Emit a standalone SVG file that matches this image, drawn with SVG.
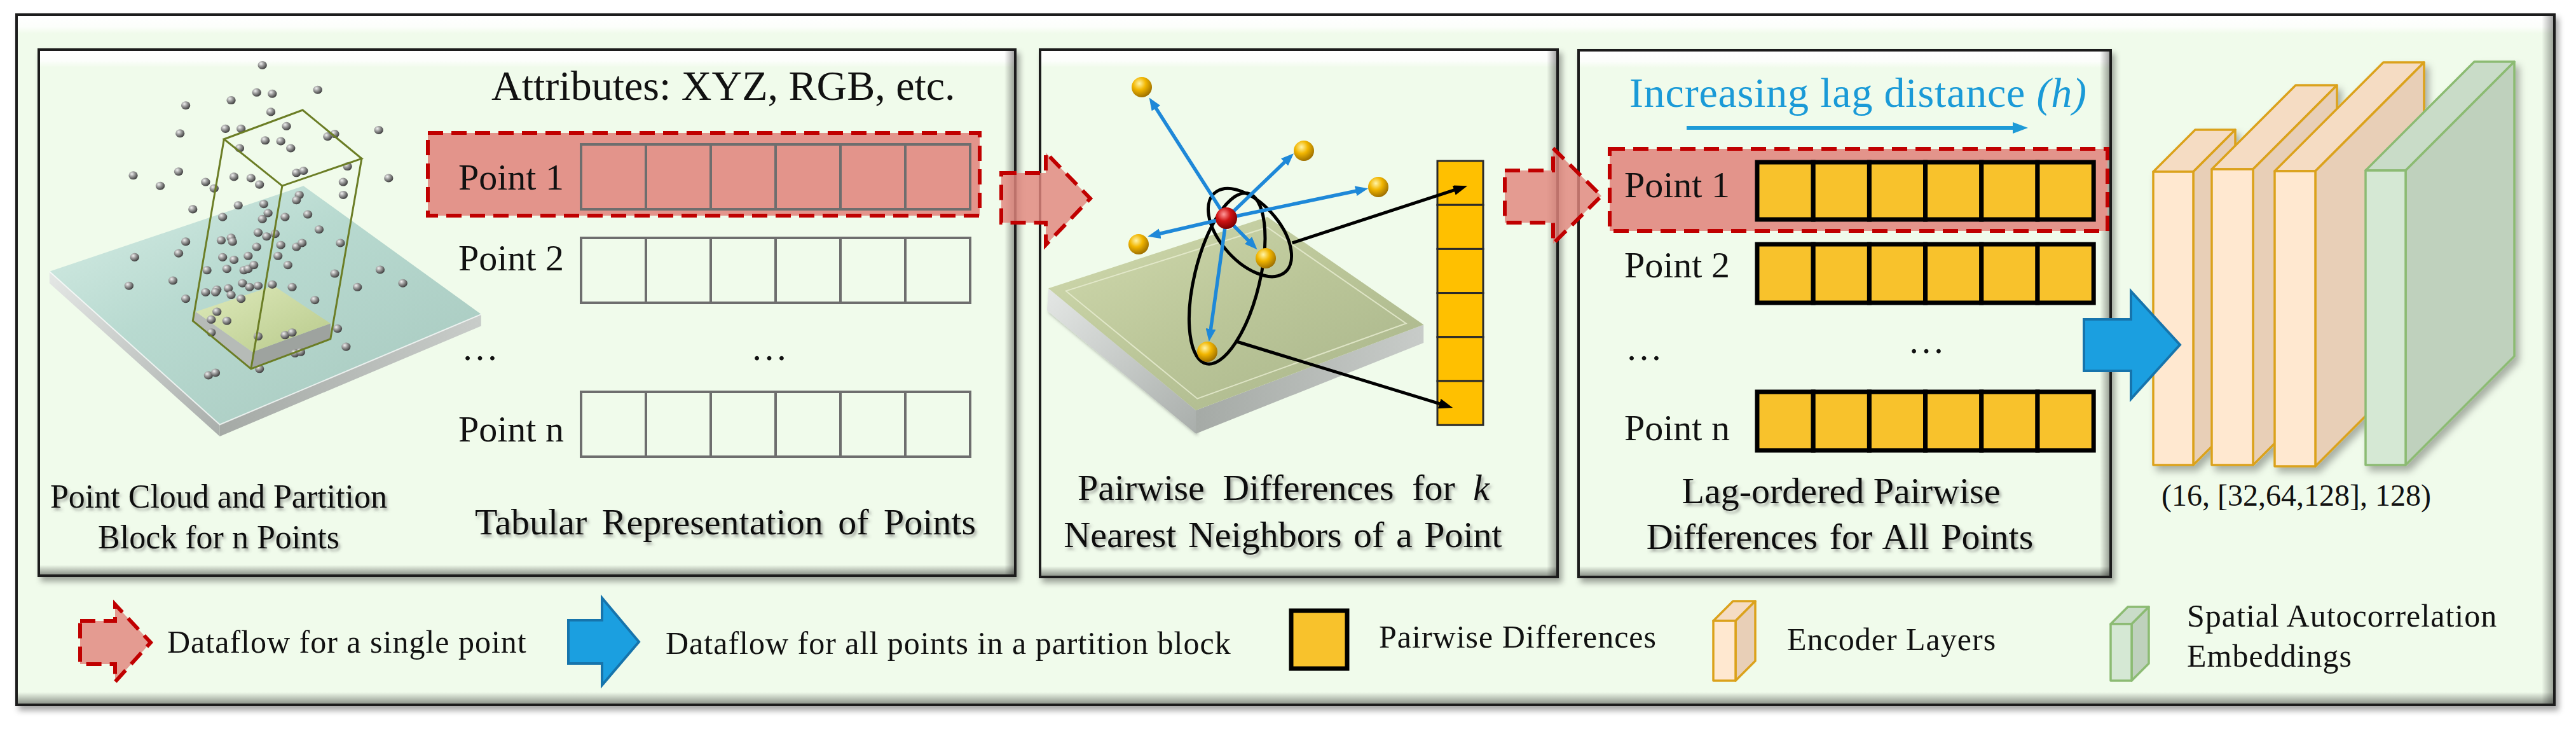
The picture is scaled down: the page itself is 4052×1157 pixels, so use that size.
<svg xmlns="http://www.w3.org/2000/svg" width="4052" height="1157" viewBox="0 0 4052 1157">
<defs>
<style>
.t{font-family:"Liberation Serif","Times New Roman",serif;fill:#111;}
.cap{font-size:58px;filter:url(#txtSh);}
.lbl{font-size:58px;}
.leg{font-size:50px;letter-spacing:1px;}
.panel{fill:#F0FBEB;stroke:#1E1E1E;stroke-width:4;}
.c1{fill:none;stroke:#6E6E6E;stroke-width:4;}
.c3{fill:#F8C22C;stroke:#000;stroke-width:7;}
.col{fill:#FFC000;stroke:#2A2A2A;stroke-width:3;}
.dot{fill:url(#gDot);}
.ys{fill:url(#gYel);}
.enF{fill:#FFE8D0;stroke:#DBA21C;stroke-width:3.5;stroke-linejoin:round;}
.enT{fill:#F5DCC3;stroke:#DBA21C;stroke-width:3.5;stroke-linejoin:round;}
.enS{fill:#E8CFB7;stroke:#DBA21C;stroke-width:3.5;stroke-linejoin:round;}
.grF{fill:#D5E8D4;stroke:#8CBB73;stroke-width:3.5;stroke-linejoin:round;}
.grT{fill:#C9DCC8;stroke:#8CBB73;stroke-width:3.5;stroke-linejoin:round;}
.grS{fill:#BFD1BD;stroke:#8CBB73;stroke-width:3.5;stroke-linejoin:round;}
.redarrow{fill:#E0857C;fill-opacity:0.82;stroke:#C00000;stroke-width:6;stroke-dasharray:24 13;stroke-linejoin:miter;}
.bluearrow{fill:#1B9FE0;stroke:#1674AC;stroke-width:4;stroke-linejoin:miter;}
.bl{stroke:#1E88D8;stroke-width:5.5;fill:none;}
.bk{stroke:#000;stroke-width:5;fill:none;}
.prism{fill:none;stroke:#6B7D25;stroke-width:3;}
</style>
<filter id="shadow" x="-5%" y="-5%" width="110%" height="115%">
<feDropShadow dx="5" dy="7" stdDeviation="5" flood-color="#000" flood-opacity="0.35"/>
</filter>
<filter id="txtSh" x="-5%" y="-20%" width="110%" height="150%">
<feDropShadow dx="3" dy="4" stdDeviation="2" flood-color="#555" flood-opacity="0.5"/>
</filter>
<filter id="softSh" x="-10%" y="-10%" width="130%" height="130%">
<feDropShadow dx="6" dy="8" stdDeviation="6" flood-color="#000" flood-opacity="0.3"/>
</filter>
<linearGradient id="hiTop" x1="0" y1="0" x2="0" y2="1">
<stop offset="0" stop-color="#fff" stop-opacity="1"/>
<stop offset="0.6" stop-color="#fff" stop-opacity="0.8"/>
<stop offset="1" stop-color="#fff" stop-opacity="0"/>
</linearGradient>
<linearGradient id="shBot" x1="0" y1="0" x2="0" y2="1">
<stop offset="0" stop-color="#000" stop-opacity="0"/>
<stop offset="1" stop-color="#000" stop-opacity="0.4"/>
</linearGradient>
<linearGradient id="shRight" x1="0" y1="0" x2="1" y2="0">
<stop offset="0" stop-color="#000" stop-opacity="0"/>
<stop offset="1" stop-color="#000" stop-opacity="0.35"/>
</linearGradient>
<radialGradient id="gDot" cx="0.35" cy="0.32" r="0.7">
<stop offset="0" stop-color="#F2F2F2"/>
<stop offset="0.45" stop-color="#9A9A9A"/>
<stop offset="1" stop-color="#3E3E3E"/>
</radialGradient>
<radialGradient id="gYel" cx="0.38" cy="0.32" r="0.7">
<stop offset="0" stop-color="#FFF4A8"/>
<stop offset="0.45" stop-color="#F2B600"/>
<stop offset="1" stop-color="#9C6E00"/>
</radialGradient>
<radialGradient id="gRed" cx="0.38" cy="0.32" r="0.7">
<stop offset="0" stop-color="#FF9A9A"/>
<stop offset="0.45" stop-color="#D01414"/>
<stop offset="1" stop-color="#7A0000"/>
</radialGradient>
<linearGradient id="gTeal" x1="0" y1="0" x2="1" y2="1">
<stop offset="0" stop-color="#D5EDE6"/>
<stop offset="0.4" stop-color="#B2D6CD"/>
<stop offset="1" stop-color="#9EC2B9"/>
</linearGradient>
<linearGradient id="gOlive" x1="0" y1="0" x2="1" y2="1">
<stop offset="0" stop-color="#D0D9AC"/>
<stop offset="0.5" stop-color="#B8C394"/>
<stop offset="1" stop-color="#A4B085"/>
</linearGradient>
<linearGradient id="gSideL" x1="0" y1="0" x2="1" y2="1">
<stop offset="0" stop-color="#E4E7E5"/>
<stop offset="1" stop-color="#A9AEAB"/>
</linearGradient>
<linearGradient id="gSideR" x1="0" y1="0" x2="1" y2="0">
<stop offset="0" stop-color="#A5AAA6"/>
<stop offset="1" stop-color="#C8CCC9"/>
</linearGradient>
<linearGradient id="gBase" x1="0" y1="0" x2="1" y2="1">
<stop offset="0" stop-color="#E2EBB8"/>
<stop offset="1" stop-color="#B9C985"/>
</linearGradient>
<marker id="mBlue" markerUnits="userSpaceOnUse" markerWidth="20" markerHeight="16" refX="8" refY="8" orient="auto">
<path d="M0,0 L20,8 L0,16 z" fill="#1E88D8"/>
</marker>
<marker id="mBlack" markerUnits="userSpaceOnUse" markerWidth="22" markerHeight="16" refX="8" refY="8" orient="auto">
<path d="M0,0 L22,8 L0,16 z" fill="#000"/>
</marker>
<marker id="mLag" markerUnits="userSpaceOnUse" markerWidth="24" markerHeight="18" refX="8" refY="9" orient="auto">
<path d="M0,0 L24,9 L0,18 z" fill="#1E9BD7"/>
</marker>
</defs>

<!-- outer frame -->
<g id="frame">
<rect x="26" y="23" width="3992" height="1085" class="panel" filter="url(#shadow)"/>
<rect x="28" y="25" width="3988" height="28" fill="url(#hiTop)"/>
<rect x="28" y="1088" width="3988" height="18" fill="url(#shBot)"/>
<rect x="3998" y="25" width="18" height="1081" fill="url(#shRight)"/>
</g>

<!-- Panel 1 -->
<g id="panel-tabular">
<rect x="61" y="78" width="1536" height="827" class="panel" filter="url(#shadow)"/>
<rect x="63" y="80" width="1532" height="26" fill="url(#hiTop)"/>
<rect x="63" y="888" width="1532" height="15" fill="url(#shBot)"/>
<rect x="1580" y="80" width="15" height="823" fill="url(#shRight)"/>

<g id="point-cloud" transform="translate(60,80) scale(0.4464,0.408)">
<polygon points="40,850 640,1440 640,1485 40,895" fill="url(#gSideL)"/>
<polygon points="640,1440 1561,1015 1561,1060 640,1485" fill="url(#gSideR)"/>
<polygon points="40,850 935,520 1561,1015 640,1440" fill="url(#gTeal)" fill-opacity="0.9"/>
<polyline points="40,850 640,1440 1561,1015" fill="none" stroke="#fff" stroke-opacity="0.7" stroke-width="2" vector-effect="non-scaling-stroke"/>
<polygon points="545,1040 750,1225 755,1160 555,1005" fill="#B6BBB7"/>
<polygon points="750,1225 1030,1110 1030,1050 755,1160" fill="#9EA39F"/>
<polygon points="555,1005 830,905 1030,1050 755,1160" fill="url(#gBase)" fill-opacity="0.9"/>
<g>
<circle class="dot" cx="790" cy="55" r="16"/><circle class="dot" cx="985" cy="150" r="16"/><circle class="dot" cx="770" cy="160" r="16"/><circle class="dot" cx="825" cy="165" r="16"/><circle class="dot" cx="680" cy="190" r="16"/><circle class="dot" cx="520" cy="210" r="16"/><circle class="dot" cx="820" cy="235" r="16"/><circle class="dot" cx="875" cy="290" r="16"/><circle class="dot" cx="660" cy="300" r="16"/><circle class="dot" cx="715" cy="300" r="16"/><circle class="dot" cx="1200" cy="305" r="16"/><circle class="dot" cx="500" cy="318" r="16"/><circle class="dot" cx="1020" cy="330" r="16"/><circle class="dot" cx="1045" cy="320" r="16"/><circle class="dot" cx="800" cy="345" r="16"/><circle class="dot" cx="855" cy="348" r="16"/><circle class="dot" cx="890" cy="375" r="16"/><circle class="dot" cx="710" cy="375" r="16"/><circle class="dot" cx="335" cy="480" r="16"/><circle class="dot" cx="495" cy="465" r="16"/><circle class="dot" cx="430" cy="520" r="16"/><circle class="dot" cx="690" cy="485" r="16"/><circle class="dot" cx="750" cy="490" r="16"/><circle class="dot" cx="780" cy="515" r="16"/><circle class="dot" cx="590" cy="505" r="16"/><circle class="dot" cx="620" cy="530" r="16"/><circle class="dot" cx="910" cy="470" r="16"/><circle class="dot" cx="935" cy="462" r="16"/><circle class="dot" cx="1090" cy="445" r="16"/><circle class="dot" cx="1235" cy="490" r="16"/><circle class="dot" cx="1075" cy="505" r="16"/><circle class="dot" cx="1075" cy="555" r="16"/><circle class="dot" cx="920" cy="555" r="16"/><circle class="dot" cx="910" cy="575" r="16"/><circle class="dot" cx="545" cy="610" r="16"/><circle class="dot" cx="705" cy="595" r="16"/><circle class="dot" cx="795" cy="590" r="16"/><circle class="dot" cx="650" cy="640" r="16"/><circle class="dot" cx="810" cy="625" r="16"/><circle class="dot" cx="790" cy="648" r="16"/><circle class="dot" cx="870" cy="640" r="16"/><circle class="dot" cx="950" cy="630" r="16"/><circle class="dot" cx="990" cy="688" r="16"/><circle class="dot" cx="775" cy="700" r="16"/><circle class="dot" cx="805" cy="715" r="16"/><circle class="dot" cx="835" cy="705" r="16"/><circle class="dot" cx="520" cy="735" r="16"/><circle class="dot" cx="645" cy="730" r="16"/><circle class="dot" cx="680" cy="720" r="16"/><circle class="dot" cx="685" cy="735" r="16"/><circle class="dot" cx="855" cy="748" r="16"/><circle class="dot" cx="910" cy="755" r="16"/><circle class="dot" cx="930" cy="740" r="16"/><circle class="dot" cx="1065" cy="740" r="16"/><circle class="dot" cx="770" cy="755" r="16"/><circle class="dot" cx="340" cy="795" r="16"/><circle class="dot" cx="495" cy="780" r="16"/><circle class="dot" cx="650" cy="795" r="16"/><circle class="dot" cx="690" cy="805" r="16"/><circle class="dot" cx="740" cy="790" r="16"/><circle class="dot" cx="595" cy="845" r="16"/><circle class="dot" cx="665" cy="840" r="16"/><circle class="dot" cx="725" cy="845" r="16"/><circle class="dot" cx="740" cy="840" r="16"/><circle class="dot" cx="760" cy="825" r="16"/><circle class="dot" cx="845" cy="790" r="16"/><circle class="dot" cx="880" cy="825" r="16"/><circle class="dot" cx="1205" cy="843" r="16"/><circle class="dot" cx="1045" cy="858" r="16"/><circle class="dot" cx="320" cy="905" r="16"/><circle class="dot" cx="475" cy="885" r="16"/><circle class="dot" cx="590" cy="930" r="16"/><circle class="dot" cx="630" cy="920" r="16"/><circle class="dot" cx="625" cy="930" r="16"/><circle class="dot" cx="670" cy="915" r="16"/><circle class="dot" cx="680" cy="940" r="16"/><circle class="dot" cx="720" cy="895" r="16"/><circle class="dot" cx="745" cy="910" r="16"/><circle class="dot" cx="775" cy="905" r="16"/><circle class="dot" cx="825" cy="900" r="16"/><circle class="dot" cx="895" cy="910" r="16"/><circle class="dot" cx="1125" cy="910" r="16"/><circle class="dot" cx="1285" cy="895" r="16"/><circle class="dot" cx="520" cy="955" r="16"/><circle class="dot" cx="715" cy="955" r="16"/><circle class="dot" cx="975" cy="960" r="16"/><circle class="dot" cx="630" cy="1005" r="16"/><circle class="dot" cx="610" cy="1035" r="16"/><circle class="dot" cx="665" cy="1040" r="16"/><circle class="dot" cx="1055" cy="1070" r="16"/><circle class="dot" cx="610" cy="1085" r="16"/><circle class="dot" cx="775" cy="1100" r="16"/><circle class="dot" cx="870" cy="1095" r="16"/><circle class="dot" cx="895" cy="1085" r="16"/><circle class="dot" cx="1085" cy="1140" r="16"/><circle class="dot" cx="905" cy="1165" r="16"/><circle class="dot" cx="925" cy="1160" r="16"/><circle class="dot" cx="780" cy="1225" r="16"/><circle class="dot" cx="600" cy="1250" r="16"/><circle class="dot" cx="625" cy="1240" r="16"/>
</g>
<g class="prism">
<polygon points="655,340 932,228 1140,415 860,520" vector-effect="non-scaling-stroke"/>
<polyline points="655,340 545,1040 750,1225 1030,1110 1140,415" vector-effect="non-scaling-stroke"/>
<line x1="860" y1="520" x2="750" y2="1225" vector-effect="non-scaling-stroke"/>
</g>
</g>

<text class="t" x="773" y="157" font-size="66">Attributes: XYZ, RGB, etc.</text>
<rect x="673" y="209" width="868" height="130" fill="#E3948B" stroke="#C00000" stroke-width="6" stroke-dasharray="24 13"/>
<g id="rows-p1">
<rect class="c1" x="914" y="227" width="102" height="102"/><rect class="c1" x="1016" y="227" width="102" height="102"/><rect class="c1" x="1118" y="227" width="102" height="102"/><rect class="c1" x="1220" y="227" width="102" height="102"/><rect class="c1" x="1322" y="227" width="102" height="102"/><rect class="c1" x="1424" y="227" width="102" height="102"/>
<rect class="c1" x="914" y="374" width="102" height="102"/><rect class="c1" x="1016" y="374" width="102" height="102"/><rect class="c1" x="1118" y="374" width="102" height="102"/><rect class="c1" x="1220" y="374" width="102" height="102"/><rect class="c1" x="1322" y="374" width="102" height="102"/><rect class="c1" x="1424" y="374" width="102" height="102"/>
<rect class="c1" x="914" y="616" width="102" height="102"/><rect class="c1" x="1016" y="616" width="102" height="102"/><rect class="c1" x="1118" y="616" width="102" height="102"/><rect class="c1" x="1220" y="616" width="102" height="102"/><rect class="c1" x="1322" y="616" width="102" height="102"/><rect class="c1" x="1424" y="616" width="102" height="102"/>
</g>
<text class="t lbl" x="721" y="298">Point 1</text>
<text class="t lbl" x="721" y="425">Point 2</text>
<text class="t lbl" x="726" y="566">…</text>
<text class="t lbl" x="1181" y="566">…</text>
<text class="t lbl" x="721" y="694">Point n</text>
<text class="t cap" x="344" y="798" text-anchor="middle" style="font-size:52px">Point Cloud and Partition</text>
<text class="t cap" x="344" y="862" text-anchor="middle" style="font-size:52px">Block for n Points</text>
<text class="t cap" x="747" y="840" word-spacing="9">Tabular Representation of Points</text>
</g>

<!-- Panel 2 -->
<g id="panel-knn">
<rect x="1636" y="78" width="814" height="829" class="panel" filter="url(#shadow)"/>
<rect x="1638" y="80" width="810" height="26" fill="url(#hiTop)"/>
<rect x="1638" y="890" width="810" height="15" fill="url(#shBot)"/>
<rect x="2433" y="80" width="15" height="825" fill="url(#shRight)"/>

<g id="slab" transform="translate(1640,80) scale(0.4592,0.408)">
<polygon points="20,915 525,1385 525,1475 15,1000" fill="url(#gSideL)" filter="url(#softSh)"/>
<polygon points="525,1385 1305,1055 1305,1125 525,1475" fill="url(#gSideR)"/>
<polygon points="20,915 770,640 1305,1055 525,1385" fill="url(#gOlive)" fill-opacity="0.95"/>
<polygon points="80,925 770,680 1245,1050 530,1340" fill="none" stroke="#E8EDD2" stroke-opacity="0.8" stroke-width="2" vector-effect="non-scaling-stroke"/>
<ellipse cx="710" cy="700" rx="195" ry="105" transform="rotate(54 710 700)" fill="none" stroke="#000" stroke-width="5" vector-effect="non-scaling-stroke"/>
<ellipse cx="632" cy="877" rx="336" ry="112" transform="rotate(102 632 877)" fill="none" stroke="#000" stroke-width="5" vector-effect="non-scaling-stroke"/>
</g>

<g id="kcolumn">
<rect class="col" x="2261" y="253" width="72" height="69.2"/><rect class="col" x="2261" y="322.2" width="72" height="69.2"/><rect class="col" x="2261" y="391.4" width="72" height="69.2"/><rect class="col" x="2261" y="460.6" width="72" height="69.2"/><rect class="col" x="2261" y="529.8" width="72" height="69.2"/><rect class="col" x="2261" y="599" width="72" height="69.2"/>
</g>

<g id="neighbors">
<line class="bl" x1="1929" y1="343" x2="1814.1" y2="163.5" marker-end="url(#mBlue)"/>
<line class="bl" x1="1929" y1="343" x2="2026.3" y2="249.5" marker-end="url(#mBlue)"/>
<line class="bl" x1="1929" y1="343" x2="2140.3" y2="298.7" marker-end="url(#mBlue)"/>
<line class="bl" x1="1929" y1="343" x2="1817.0" y2="369.0" marker-end="url(#mBlue)"/>
<line class="bl" x1="1929" y1="343" x2="1969.1" y2="383.6" marker-end="url(#mBlue)"/>
<line class="bl" x1="1929" y1="343" x2="1903.4" y2="525.1" marker-end="url(#mBlue)"/>
<circle class="ys" cx="1796" cy="137" r="16"/>
<circle class="ys" cx="2051" cy="237" r="16"/>
<circle class="ys" cx="2168" cy="294" r="16"/>
<circle class="ys" cx="1791" cy="384" r="16"/>
<circle class="ys" cx="1991" cy="406" r="16"/>
<circle class="ys" cx="1899" cy="553" r="16"/>
<circle cx="1929" cy="343" r="17" fill="url(#gRed)"/>
</g>
<line class="bk" x1="2032.6" y1="381.9" x2="2294.8" y2="296.5" marker-end="url(#mBlack)"/>
<line class="bk" x1="1945.4" y1="537.0" x2="2271.8" y2="636.9" marker-end="url(#mBlack)"/>

<text class="t cap" x="2019" y="786" text-anchor="middle" word-spacing="14">Pairwise Differences for <tspan font-style="italic">k</tspan></text>
<text class="t cap" x="2018" y="860" text-anchor="middle" word-spacing="4">Nearest Neighbors of a Point</text>
</g>

<!-- Panel 3 -->
<g id="panel-lag">
<rect x="2483" y="79" width="837" height="828" class="panel" filter="url(#shadow)"/>
<rect x="2485" y="81" width="833" height="26" fill="url(#hiTop)"/>
<rect x="2485" y="890" width="833" height="15" fill="url(#shBot)"/>
<rect x="3303" y="81" width="15" height="824" fill="url(#shRight)"/>
<text class="t" x="2563" y="168" font-size="66" letter-spacing="0.8" style="fill:#1A9AD7">Increasing lag distance <tspan font-style="italic">(h)</tspan></text>
<line x1="2653" y1="201" x2="3174" y2="201" stroke="#1E9BD7" stroke-width="6" marker-end="url(#mLag)"/>
<rect x="2532" y="234" width="783" height="129" fill="#E3948B" stroke="#C00000" stroke-width="6" stroke-dasharray="24 13"/>
<g id="rows-p3">
<rect class="c3" x="2764" y="255" width="88.2" height="90"/><rect class="c3" x="2852.2" y="255" width="88.2" height="90"/><rect class="c3" x="2940.4" y="255" width="88.2" height="90"/><rect class="c3" x="3028.6" y="255" width="88.2" height="90"/><rect class="c3" x="3116.8" y="255" width="88.2" height="90"/><rect class="c3" x="3205" y="255" width="88.2" height="90"/>
<rect class="c3" x="2764" y="384" width="88.2" height="92"/><rect class="c3" x="2852.2" y="384" width="88.2" height="92"/><rect class="c3" x="2940.4" y="384" width="88.2" height="92"/><rect class="c3" x="3028.6" y="384" width="88.2" height="92"/><rect class="c3" x="3116.8" y="384" width="88.2" height="92"/><rect class="c3" x="3205" y="384" width="88.2" height="92"/>
<rect class="c3" x="2764" y="616" width="88.2" height="92"/><rect class="c3" x="2852.2" y="616" width="88.2" height="92"/><rect class="c3" x="2940.4" y="616" width="88.2" height="92"/><rect class="c3" x="3028.6" y="616" width="88.2" height="92"/><rect class="c3" x="3116.8" y="616" width="88.2" height="92"/><rect class="c3" x="3205" y="616" width="88.2" height="92"/>
</g>
<text class="t lbl" x="2555" y="310">Point 1</text>
<text class="t lbl" x="2555" y="436">Point 2</text>
<text class="t lbl" x="2557" y="566">…</text>
<text class="t lbl" x="3001" y="555">…</text>
<text class="t lbl" x="2555" y="692">Point n</text>
<text class="t cap" x="2896" y="791" text-anchor="middle">Lag-ordered Pairwise</text>
<text class="t cap" x="2894" y="863" text-anchor="middle" word-spacing="4">Differences for All Points</text>
</g>

<!-- Encoder -->
<g id="encoder" filter="url(#softSh)">
<g id="enc-layer-1">
<polygon class="enT" points="3387,270 3453,204 3516,204 3450,270"/>
<polygon class="enS" points="3450,270 3516,204 3516,665 3450,731"/>
<rect class="enF" x="3387" y="270" width="63" height="461"/>
</g>
<g id="enc-layer-2">
<polygon class="enT" points="3479,266 3611,134 3676,134 3544,266"/>
<polygon class="enS" points="3544,266 3676,134 3676,599 3544,731"/>
<rect class="enF" x="3479" y="266" width="65" height="465"/>
</g>
<g id="enc-layer-3">
<polygon class="enT" points="3578,269 3749,98 3813,98 3642,269"/>
<polygon class="enS" points="3642,269 3813,98 3813,562 3642,733"/>
<rect class="enF" x="3578" y="269" width="64" height="464"/>
</g>
<g id="embedding">
<polygon class="grT" points="3721,268 3892,97 3955,97 3784,268"/>
<polygon class="grS" points="3784,268 3955,97 3955,560 3784,731"/>
<rect class="grF" x="3721" y="268" width="63" height="463"/>
</g>
</g>
<text class="t" x="3400" y="795" font-size="48">(16, [32,64,128], 128)</text>

<!-- Legend -->
<g id="legend">
<g id="leg-single">
<polygon class="redarrow" points="126,976 181,976 181,950 237,1010 181,1072 181,1044 126,1044"/>
<text class="t leg" x="263" y="1026">Dataflow for a single point</text>
</g>
<g id="leg-all">
<polygon class="bluearrow" points="894,975 947,975 947,940 1005,1009 947,1077 947,1043 894,1043"/>
<text class="t leg" x="1047" y="1028">Dataflow for all points in a partition block</text>
</g>
<g id="leg-pd">
<rect x="2031" y="960" width="88" height="91" fill="#F8C22C" stroke="#000" stroke-width="7"/>
<text class="t leg" x="2169" y="1018">Pairwise Differences</text>
</g>
<g id="leg-enc">
<polygon class="enT" points="2695,976 2726,945 2761,945 2730,976"/>
<polygon class="enS" points="2730,976 2761,945 2761,1039 2730,1070"/>
<rect class="enF" x="2695" y="976" width="35" height="94"/>
<text class="t leg" x="2811" y="1022">Encoder Layers</text>
</g>
<g id="leg-emb">
<polygon class="grT" points="3320,981 3347,954 3380,954 3353,981"/>
<polygon class="grS" points="3353,981 3380,954 3380,1043 3353,1070"/>
<rect class="grF" x="3320" y="981" width="33" height="89"/>
<text class="t leg" x="3440" y="985" letter-spacing="1.5">Spatial Autocorrelation</text>
<text class="t leg" x="3440" y="1048" letter-spacing="1.5">Embeddings</text>
</g>
</g>

<!-- Connectors -->
<g id="connectors">
<polygon class="redarrow" points="1575,272 1645,272 1645,240 1715,312 1645,385 1645,350 1575,350"/>
<polygon class="redarrow" points="2367,268 2443,268 2443,233 2519,308 2443,383 2443,350 2367,350"/>
<polygon class="bluearrow" points="3278,502 3352,502 3352,458 3429,542 3352,627 3352,583 3278,583"/>
</g>
</svg>
